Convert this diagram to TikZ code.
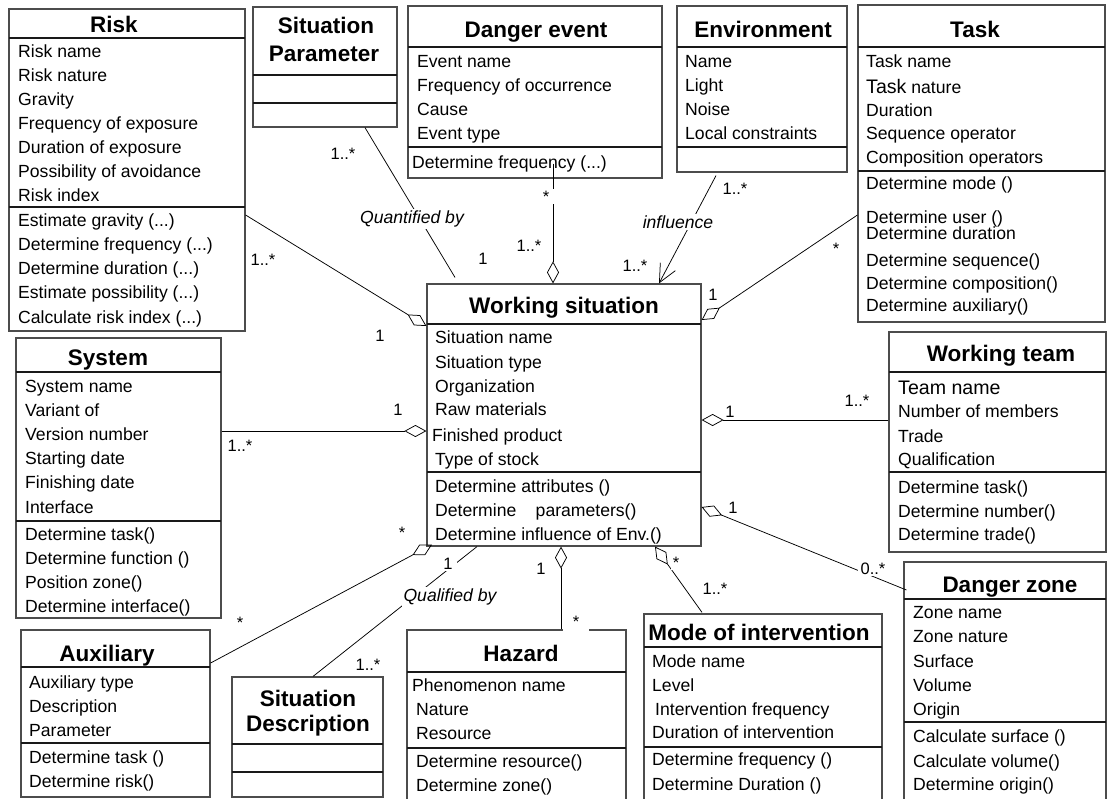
\documentclass[tikz,border=0pt]{standalone}
\usepackage{fontspec}
\setmainfont{Liberation Sans}
\usetikzlibrary{arrows.meta,fit,calc}

\newcommand{\rf}{\fontsize{17.6}{21}\selectfont}
\newcommand{\bigrf}{\fontsize{19.6}{22}\selectfont}
\newcommand{\tf}{\fontsize{22.5}{28}\selectfont\bfseries}
\newcommand{\lf}{\fontsize{16.5}{19}\selectfont}
\newcommand{\tdots}{...}

\tikzset{
 box/.style={draw=black!70, line width=1.2pt, inner sep=0pt},
 sepline/.style={draw=black!90, line width=1.1pt},
 row/.style={anchor=base west, inner sep=0pt, font=\rf},
 ttl/.style={anchor=base, inner sep=0pt, font=\tf},
 mult/.style={anchor=base, font=\lf, inner sep=2pt, fill=white},
 role/.style={font=\rf\itshape, inner sep=2pt, fill=white},
 conn/.style={draw=black, line width=0.75pt},
 agg/.style={conn, -{Diamond[open, length=22pt, width=12pt]}},
 nav/.style={conn, -{Straight Barb[length=18pt, width=17pt]}},
}

\newcommand{\umlbox}[5]{\node[box, fit={(#2,#3) (#4,#5)}] (#1) {};}
\newcommand{\hsep}[3]{\draw[sepline] (#1,#3) -- (#2,#3);}
\newcommand{\rows}[2]{\foreach \yy/\rt in {#2} {\node[row] at (#1,\yy) {\rt};}}

\begin{document}
\begin{tikzpicture}[x=1pt,y=-1pt]
\useasboundingbox[fill=white] (0,0) rectangle (1107,798);

% ---------- Risk
\umlbox{risk}{9}{9}{245}{331}
\node[ttl] at (114,32) {Risk};
\hsep{9}{245}{38}\hsep{9}{245}{207}
\rows{18}{57.5/Risk name, 81/Risk nature, 105/Gravity, 129/Frequency of exposure, 153/Duration of exposure, 177.5/Possibility of avoidance, 201.5/Risk index, 226/Estimate gravity (\tdots), 250.5/Determine frequency (\tdots), 274.5/Determine duration (\tdots), 298.5/Estimate possibility (\tdots), 323/Calculate risk index (\tdots)}

% ---------- Situation Parameter
\umlbox{sp}{253}{7}{397}{127}
\node[ttl] at (326,33) {Situation};
\node[ttl] at (324,61) {Parameter};
\hsep{253}{397}{75}\hsep{253}{397}{103}

% ---------- Danger event
\umlbox{de}{408}{6}{662}{178}
\node[ttl] at (536,37) {Danger event};
\hsep{408}{662}{47}\hsep{408}{662}{147}
\rows{417}{67.5/Event name, 91.5/Frequency of occurrence, 115/Cause, 139/Event type}
\rows{412}{168/Determine frequency (\tdots)}

% ---------- Environment
\umlbox{env}{677}{6}{847}{172}
\node[ttl] at (763,37) {Environment};
\hsep{677}{847}{47}\hsep{677}{847}{147}
\rows{685}{67.5/Name, 91.5/Light, 115/Noise, 139/Local constraints}

% ---------- Task
\umlbox{task}{858}{5}{1105}{322}
\node[ttl] at (975,37) {Task};
\hsep{858}{1105}{47}\hsep{858}{1105}{171}
\rows{866}{67/Task name, 93/{\bigrf Task} nature, 116/Duration, 139/Sequence operator, 163/Composition operators, 189/Determine mode (), 223.5/Determine user (), 239/Determine duration, 266/Determine sequence(), 289/Determine composition(), 311/Determine auxiliary()}

% ---------- System
\umlbox{sys}{16}{338}{221}{618}
\node[ttl] at (108,365) {System};
\hsep{16}{221}{372}\hsep{16}{221}{521}
\rows{25}{392.5/System name, 416/Variant of, 440.5/Version number, 464.5/Starting date, 488.5/Finishing date, 513/Interface, 540.5/Determine task(), 564.5/Determine function (), 588.5/Position zone(), 612.5/Determine interface()}

% ---------- Working situation
\umlbox{ws}{427}{284}{701}{546}
\node[ttl] at (564,313) {Working situation};
\hsep{427}{701}{324}\hsep{427}{701}{472}
\rows{435}{343.5/Situation name, 368.5/Situation type, 392.5/Organization, 415.5/Raw materials, 465.5/Type of stock, 492.5/Determine attributes (), 516.5/Determine\hspace{1.1em}parameters(), 540.5/Determine influence of Env.()}
\rows{432}{441.5/Finished product}

% ---------- Working team
\umlbox{wt}{889}{332}{1106}{552}
\node[ttl] at (1001,361) {Working team};
\hsep{889}{1106}{372}\hsep{889}{1106}{472}
\rows{898}{394.5/{\bigrf Team name}, 417.5/Number of members, 442.5/Trade, 465.5/Qualification, 493.5/Determine task(), 517.5/Determine number(), 540.5/Determine trade()}

% ---------- Danger zone
\umlbox{dz}{904}{562}{1106}{812}
\node[ttl] at (1010,592) {Danger zone};
\hsep{904}{1106}{599}\hsep{904}{1106}{722}
\rows{913}{618.5/Zone name, 642.5/Zone nature, 667.5/Surface, 691.5/Volume, 715.5/Origin, 742.5/Calculate surface (), 767.5/Calculate volume(), 790.5/Determine origin()}

% ---------- Auxiliary
\umlbox{aux}{21}{630}{210}{797}
\node[ttl] at (107,661) {Auxiliary};
\hsep{21}{210}{667}\hsep{21}{210}{743}
\rows{29}{688.5/Auxiliary type, 712.5/Description, 736.5/Parameter, 763.5/Determine task (), 787.5/Determine risk()}

% ---------- Situation Description
\umlbox{sd}{232}{677}{383}{797}
\node[ttl] at (308,706) {Situation};
\node[ttl] at (308,731) {Description};
\hsep{232}{383}{744}\hsep{232}{383}{772}

% ---------- Hazard
\umlbox{haz}{407}{630}{626}{812}
\node[ttl] at (521,661) {Hazard};
\hsep{407}{626}{672}\hsep{407}{626}{748}
\rows{412}{691.5/Phenomenon name}
\rows{416}{715.5/Nature, 739.5/Resource, 767.5/Determine resource(), 791.5/Determine zone()}

% ---------- Mode of intervention
\umlbox{mode}{644}{614}{882}{812}
\node[ttl] at (759,640) {Mode of intervention};
\hsep{644}{882}{647}\hsep{644}{882}{747}
\rows{652}{667.5/Mode name, 691.5/Level, 738.5/Duration of intervention, 765.5/Determine frequency (), 790.5/Determine Duration ()}
\rows{655}{715.5/Intervention frequency}

% ---------- connectors
\draw[agg] (risk.east |- 0,215) -- (ws.west |- 0,326);
\draw[conn] (sp.south -| 365,0) -- ($(ws.north -| 455,0)+(0,-6)$);
\draw[agg] ($(de.south -| 553,0)+(0,-15)$) -- (ws.north -| 553,0);
\draw[nav] ($(env.south -| 716,0)+(0,3)$) -- (ws.north -| 659,0);
\draw[agg] (task.west |- 0,215) -- (ws.east |- 0,320);
\draw[agg] (sys.east |- 0,431) -- (ws.west |- 0,431);
\draw[agg] (wt.west |- 0,420) -- (ws.east |- 0,420);
\draw[agg] ($(dz.west |- 0,590)+(3,0)$) -- (ws.east |- 0,507);
\draw[agg] ($(mode.north -| 702,0)+(0,-1)$) -- (ws.south -| 655,0);
\draw[agg] (haz.north -| 561,0) -- (ws.south -| 561,0);
\draw[agg] (aux.east |- 0,663) -- ($(ws.south -| 432,0)+(0,-2)$);
\draw[conn] (sd.north -| 313,0) -- (ws.south -| 477,0);

% ---------- role names
\node[role] (qb) at (412,219) {Quantified by};
\node[role] (inf) at (678,222) {influence};
\node[role] (qd) at (450,597) {Qualified by};

% ---------- multiplicities
\node[mult] (m1a) at (263,265) {1..*};
\node[mult] (m1b) at (380,341) {1};
\node[mult] (m2a) at (343,159) {1..*};
\node[mult] (m2b) at (483,264) {1};
\node[mult, minimum width=16pt] (m3a) at (546,202) {*};
\node[mult] (m3b) at (529,251) {1..*};
\node[mult] (m4a) at (735,194) {1..*};
\node[mult] (m4b) at (635,271) {1..*};
\node[mult] (m5a) at (836,254) {*};
\node[mult] (m5b) at (713,300) {1};
\node[mult] (m6a) at (398,415) {1};
\node[mult] (m6b) at (240,451) {1..*};
\node[mult, minimum width=16pt] (m7a) at (730,417) {1};
\node[mult] (m7b) at (857,406) {1..*};
\node[mult] (m8a) at (733,513) {1};
\node[mult, minimum width=30pt] (m8b) at (873,574) {0..*};
\node[mult] (m9a) at (676,568) {*};
\node[mult] (m9b) at (715,594) {1..*};
\node[mult] (m10a) at (541,574) {1};
\node[mult, minimum width=26pt, minimum height=22pt] (m10b) at (576,627) {*};
\node[mult] (m11a) at (402,538) {*};
\node[mult] (m11b) at (240,628) {*};
\node[mult, minimum width=18pt] (m12a) at (448,569) {1};
\node[mult] (m12b) at (368,670) {1..*};
\end{tikzpicture}
\end{document}
